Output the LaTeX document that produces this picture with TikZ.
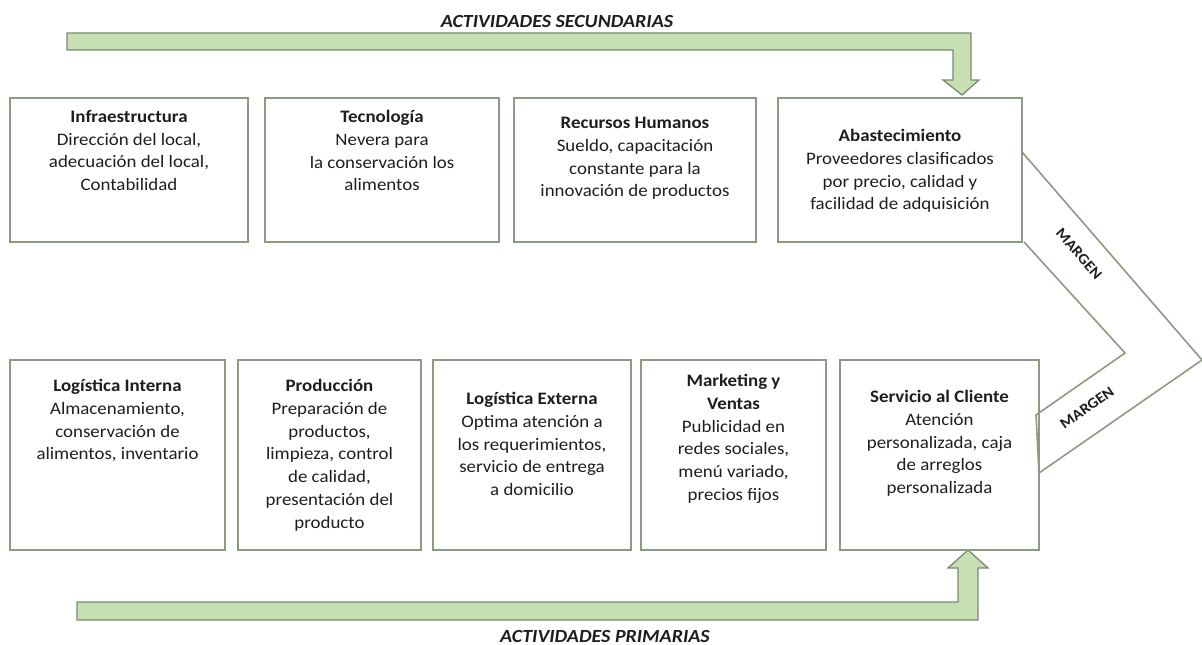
\documentclass[tikz,border=0pt]{standalone}
\usepackage{fontspec}
\setmainfont{Carlito}[FakeStretch=1.08]
\usepackage{tikz}

\definecolor{borde}{HTML}{8C9A84}
\definecolor{flecha}{HTML}{C6E0B4}
\definecolor{flechaborde}{HTML}{7A8A70}
\definecolor{tinta}{HTML}{1E1E1E}

\begin{document}
\begin{tikzpicture}[x=1pt,y=-1pt,
  caja/.style={draw=borde,line width=1.6pt,inner sep=0pt,minimum height=#1},
  texto/.style={anchor=north,inner sep=0pt,align=center,text=tinta,
    font=\fontsize{17.5}{22.8}\selectfont},
  titulo/.style={inner sep=0pt,text=tinta,font=\fontsize{18.5}{20}\selectfont\bfseries\itshape},
  margen/.style={text=tinta,inner sep=0pt,font=\fontsize{15}{16}\selectfont\bfseries},
  banda/.style={fill=flecha,draw=flechaborde,line width=1.3pt,line join=miter}]
\useasboundingbox (0,0) rectangle (1202,645);

 \node[titulo] (sec) at (557,22) {ACTIVIDADES SECUNDARIAS};
 \node[titulo] (pri) at (605,636) {ACTIVIDADES PRIMARIAS};

\draw[banda] (67,33) -- (971,33) -- (971,80) -- (979,80) -- (962,95)
  -- (943,80) -- (953,80) -- (953,50) -- (67,50) -- cycle;
\draw[banda] (77,620) -- (978,620) -- (978,568) -- (988,568) -- (968,550)
  -- (948,568) -- (958,568) -- (958,602) -- (77,602) -- cycle;

 \node[caja=144pt,minimum width=238pt] (infra) at (129,170) {};
 \node[caja=144pt,minimum width=234pt] (tecno) at (382,170) {};
 \node[caja=144pt,minimum width=242pt] (rrhh) at (635,170) {};
 \node[caja=144pt,minimum width=244pt] (abast) at (900,170) {};

 \node[caja=190pt,minimum width=215pt] (logint) at (117.5,455) {};
 \node[caja=190pt,minimum width=183pt] (produc) at (329.5,455) {};
 \node[caja=190pt,minimum width=198pt] (logext) at (532,455) {};
 \node[caja=190pt,minimum width=185pt] (mkt) at (733.5,455) {};
 \node[caja=190pt,minimum width=199pt] (servicio) at (939.5,455) {};

 \node[texto] (infra-t) at (129,110) {\textbf{Infraestructura}\\Dirección del local,\\adecuación del local,\\Contabilidad};
 \node[texto] (tecno-t) at (382,110) {\textbf{Tecnología}\\Nevera para\\la conservación los\\alimentos};
 \node[texto] (rrhh-t) at (635,117) {\textbf{Recursos Humanos}\\Sueldo, capacitación\\constante para la\\innovación de productos};
 \node[texto] (abast-t) at (900,129) {\textbf{Abastecimiento}\\Proveedores clasificados\\por precio, calidad y\\facilidad de adquisición};

 \node[texto] (logint-t) at (117.5,379) {\textbf{Logística Interna}\\Almacenamiento,\\conservación de\\alimentos, inventario};
 \node[texto] (produc-t) at (329.5,379) {\textbf{Producción}\\Preparación de\\productos,\\limpieza, control\\de calidad,\\presentación del\\producto};
 \node[texto] (logext-t) at (532,392) {\textbf{Logística Externa}\\Optima atención a\\los requerimientos,\\servicio de entrega\\a domicilio};
 \node[texto] (mkt-t) at (733.5,374) {\textbf{Marketing y}\\\textbf{Ventas}\\Publicidad en\\redes sociales,\\menú variado,\\precios fijos};
 \node[texto] (servicio-t) at (939.5,390) {\textbf{Servicio al Cliente}\\Atención\\personalizada, caja\\de arreglos\\personalizada};

\draw[draw=borde,line width=1.6pt,line join=miter] (1022,152) -- (1202,360) -- (1039,473)
  -- (1036,415) -- (1125,353) -- (1024,242);

 \node[margen,rotate=-49] (m1) at (1079,254) {MARGEN};
 \node[margen,rotate=35] (m2) at (1087,408) {MARGEN};

\end{tikzpicture}
\end{document}
